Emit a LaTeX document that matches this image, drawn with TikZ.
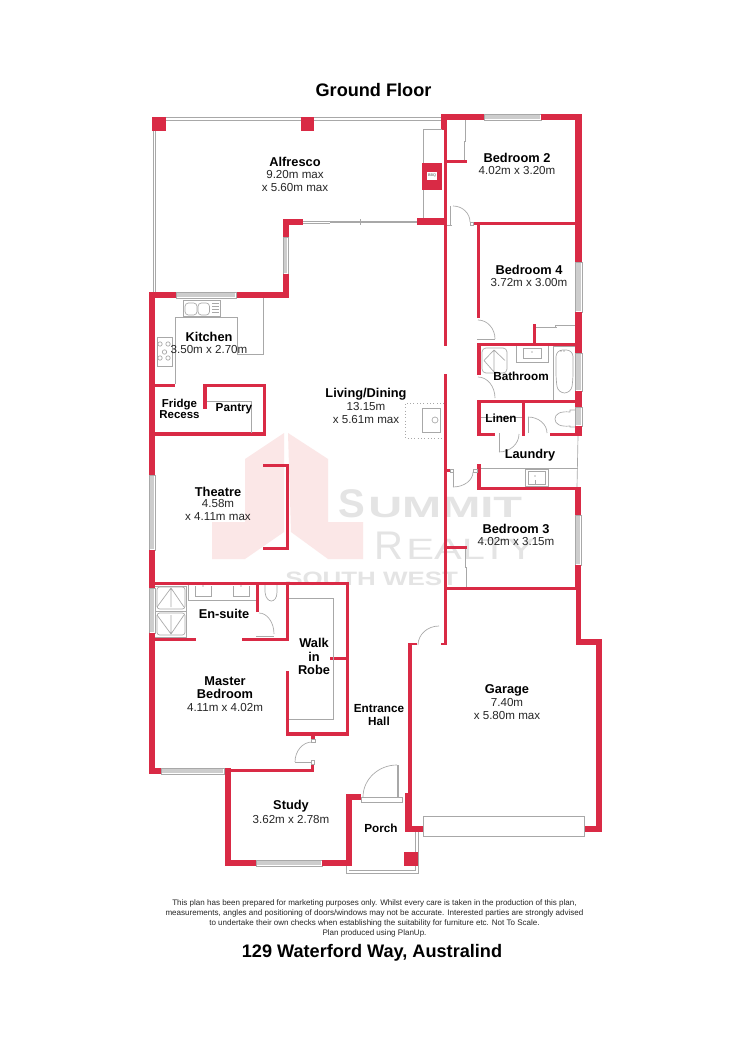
\documentclass[tikz,border=0pt]{standalone}
\usepackage{fontspec}
\setmainfont{Liberation Sans}
\usetikzlibrary{calc}
\definecolor{wallred}{HTML}{D92A45}
\definecolor{fine}{HTML}{A8A8A8}
\definecolor{band}{HTML}{CDCDCD}
\definecolor{logopink}{HTML}{FBE7E7}
\definecolor{logogrey}{HTML}{E4E4E4}
\tikzset{
 wall/.style={fill=wallred},
 thin line/.style={draw=fine,line width=0.5pt},
 roomname/.style={font=\fontsize{9.6pt}{11pt}\selectfont\bfseries,text=black,inner sep=0pt,align=center},
 roomsize/.style={font=\fontsize{8.7pt}{9.6pt}\selectfont,text=black!85,inner sep=0pt,align=center},
 heading/.style={font=\fontsize{13.6pt}{15pt}\selectfont\bfseries,text=black,inner sep=0pt},
 smallprint/.style={font=\fontsize{6.02pt}{7.5pt}\selectfont,text=black!85,inner sep=0pt,align=center},
 logotext/.style={text=logogrey,inner sep=0pt,anchor=base west},
}
% wall rectangle
\newcommand{\wl}[4]{\fill[wall] (#1,#2) rectangle (#3,#4);}
% horizontal and vertical windows
\newcommand{\hwin}[4]{\draw[thin line,fill=white] (#1,#2) rectangle (#3,#4);
 \fill[band] (#1+0.8,#2+1.2) rectangle (#3-0.8,#4-1.2);}
\newcommand{\vwin}[4]{\draw[thin line,fill=white] (#1,#2) rectangle (#3,#4);
 \fill[band] (#1+1.2,#2+0.8) rectangle (#3-1.2,#4-0.8);}
% quarter arc: from, corner, to
\newcommand{\qarc}[3]{\draw[thin line] (#1) .. controls ($(#1)!0.55!(#2)$) and ($(#3)!0.55!(#2)$) .. (#3);}
\begin{document}
\begin{tikzpicture}[x=0.75pt,y=-0.75pt]
\useasboundingbox (0,0) rectangle (750,1062);
\fill[white] (0,0) rectangle (750,1062);
% watermark
\fill[logopink] (284,433)--(245,459)--(245,522)--(212,522)--(212,559)--(245,559)--(284,532)--cycle;
\fill[logopink] (288,433)--(328,459)--(328,522)--(363,522)--(363,559)--(328,559)--(291,532)--cycle;
\node[logotext,font=\fontsize{30pt}{30pt}\selectfont\bfseries] (wmS) at (338,517) {S};
\node[logotext,font=\fontsize{22pt}{24pt}\selectfont\bfseries] (wmU) at (368,517) {\scalebox{1.6}[1]{UMMIT}};
\node[logotext,font=\fontsize{30pt}{30pt}\selectfont] (wmR) at (374,559) {R};
\node[logotext,font=\fontsize{22pt}{24pt}\selectfont] (wmE) at (406,559) {\scalebox{1.42}[1]{EALTY}};
\node[logotext,font=\fontsize{14.5pt}{16pt}\selectfont\bfseries] (wmW) at (285,585) {\scalebox{1.34}[1]{SOUTH WEST}};
% alfresco outline
\draw[thin line] (153,117) -- (441,117);
\draw[thin line] (153,120) -- (441,120);
\draw[thin line] (153,117) -- (153,292);
\draw[thin line] (155.5,120) -- (155.5,292);
\fill[wall] (152,117) rectangle (166,131);
\fill[wall] (301,117) rectangle (314,131);
% sliding door
\draw[thin line] (303,221) -- (417,221);
\draw[thin line] (303,223) -- (330,223);
\draw[thin line] (330,222.5) -- (417,222.5);
\draw[thin line] (360,219.5) -- (360,225);
% living corner
\wl{283}{219}{303}{225}
\wl{283}{225}{288.5}{237}
\vwin{283}{237}{288.5}{274}
\wl{283}{274}{288.5}{298}
\wl{149}{292}{288.5}{298}
\hwin{176}{292}{236}{298}
% left wall
\wl{149}{292}{155}{475}
\vwin{149}{475}{155}{550}
\wl{149}{550}{155}{588}
\vwin{149}{588}{155}{633}
\wl{149}{633}{155}{774}
\wl{149}{768}{161}{774}
\hwin{161}{768}{224}{774}
% master / study
\wl{225}{768}{231}{866}
\wl{225}{769}{314}{772}
\wl{311}{764}{314}{772}
\wl{311}{736}{315}{739}
\wl{225}{860}{256}{866}
\hwin{256}{860}{322}{866}
\wl{322}{860}{352}{866}
\wl{346}{794}{352}{866}
\wl{346}{794}{361}{800}
% robe + ensuite
\wl{149}{582}{349}{585}
\wl{346}{582}{349}{736}
\wl{286}{732}{349}{736}
\wl{286}{671}{289}{736}
\wl{286}{585}{289}{641}
\wl{242}{638}{289}{641}
\wl{155}{638}{196}{641}
\wl{256}{585}{259}{612}
\wl{330}{657}{346}{660}
\draw[thin line] (289,598) -- (333,598) -- (333,719) -- (289,719);
% theatre
\wl{263}{464}{289}{467}
\wl{286}{464}{289}{549}
\wl{263}{547}{289}{549.5}
% pantry + kitchen
\wl{155}{432}{266}{436}
\wl{203}{384}{266}{387}
\wl{203}{384}{207}{409}
\wl{263}{384}{266}{436}
\wl{155}{384}{175}{387}
\draw[thin line] (207,401) -- (251,401) -- (251,433);
\draw[thin line] (175,384) -- (175,317) -- (237,317) -- (237,354) -- (263,354) -- (263,298);
\draw[thin line] (183,300) rectangle (220,316);
\draw[thin line,rounded corners=2.5pt] (185,303) rectangle (197,315);
\draw[thin line,rounded corners=2.5pt] (198,303) rectangle (209.5,315);
\draw[thin line] (212,303) -- (219,303) (212,306) -- (219,306) (212,309) -- (219,309) (212,312) -- (219,312);
\draw[thin line] (157,337) rectangle (172,366);
\foreach \a/\b in {160/344,168/344,164.5/352,160/358,168/358}{\draw[thin line] (\a,\b) circle (2.2);}
% top right
\wl{441}{114}{484}{120}
\hwin{484}{114}{541}{120}
\wl{541}{114}{582}{120}
\wl{441}{114}{447}{130}
\wl{444}{130}{447}{346}
\wl{444}{374}{447}{645}
\wl{575}{114}{582}{262}
\vwin{575}{262}{582}{312}
\wl{575}{312}{582}{353}
\vwin{575}{353}{582}{391}
\wl{575}{391}{582}{407}
\vwin{575}{407}{582}{426}
\wl{575}{426}{582}{436}
\draw[thin line] (578,436) -- (577,487);
\wl{575}{487}{581}{515}
\vwin{575}{515}{581}{565}
\wl{575}{565}{581}{590}
\wl{473}{222}{576}{225}
\wl{477}{225}{480}{318}
\wl{447}{160}{467}{163}
\draw[thin line] (465,120) -- (465,141) -- (464,141) -- (464,160);
% BBQ and alfresco end
\wl{417}{218}{444}{225}
\draw[thin line] (423,163) -- (423,129) -- (442,129);
\draw[thin line] (423,190) -- (423,218);
\wl{422}{163}{442}{190}
\fill[white] (427,172) rectangle (437,180);
\node[font=\fontsize{2.8pt}{3pt}\selectfont,text=black!70,inner sep=0pt] (bbq) at (432,176) {BBQ};
% doors near bed 2
\draw[thin line] (450,206) -- (450,225) (447,225) -- (452,225);
\qarc{453,206}{470,206}{470,222}
\draw[thin line] (470,222) rectangle (473,225);
\qarc{478,320}{495,320}{495,339}
\draw[thin line] (477,339) -- (495,339);
% bathroom
\wl{533}{324}{536}{346}
\draw[thin line] (536,327) -- (557,327) (555,327) -- (555,325) -- (575,325);
\wl{477}{343}{575}{346}
\wl{477}{343}{481}{375}
\qarc{478,377}{495,377}{495,398}
\wl{477}{400}{575}{403}
\draw[thin line,rounded corners=3pt] (482,348) rectangle (507,373);
\draw[thin line] (484,360.5) -- (494,350) -- (505,360.5) (484,360.5) -- (494,372) (494,350) -- (494,372);
\draw[thin line] (516,346) -- (516,362) -- (548,362) -- (548,346);
\draw[thin line] (523,348) rectangle (541,358);
\draw[thin line] (553,346) -- (553,400) (553,346) -- (575,346);
\draw[thin line,rounded corners=5pt] (556,350) -- (573,350) -- (573,380) -- (571,393) -- (558,393) -- (556,380) -- cycle;
\fill[black!60] (564,351) circle (0.7) (561,351) circle (0.7) (532,352) circle (0.7);
% linen, WC, laundry
\wl{477}{403}{481}{436}
\wl{477}{433}{495}{436}
\wl{522}{403}{525}{436}
\wl{550}{433}{582}{436}
\draw[thin line] (481,417) -- (522,417);
\draw[thin line] (499,433) -- (499,452);
\qarc{499,452}{519,452}{519,434}
\draw[thin line] (528,417) -- (528,433);
\qarc{528,417}{547,417}{547,433}
\draw[thin line] (575,410) -- (570,410) -- (570,412) .. controls (560,411) and (555,414) .. (555,419) .. controls (555,424) and (560,427) .. (570,426) -- (570,427) -- (575,427);
\wl{477}{464}{481}{490}
\wl{477}{487}{581}{490}
\draw[thin line] (481,468) -- (578,468);
\draw[thin line] (525,469.5) rectangle (548,486);
\draw[thin line] (528,471) rectangle (545,484);
\fill[black!60] (535,476) circle (0.7);
\draw[thin line] (535,480) -- (535,484);
% hall door
\wl{447}{469}{450}{472}
\draw[thin line] (450,469) rectangle (453,472);
\draw[thin line] (473,469) rectangle (477,472);
\draw[thin line] (453,472) -- (453,487);
\qarc{453,487}{473,487}{473,472}
% bedroom 3 wardrobe + bottom
\wl{447}{546}{467}{549}
\draw[thin line] (465,549) -- (465,567) -- (466,567) -- (466,587);
\wl{447}{587}{581}{590}
% garage
\wl{576}{587}{581}{645}
\wl{576}{639}{602}{645}
\wl{596}{639}{602}{832}
\wl{584}{826}{602}{832}
\wl{405}{826}{423}{832}
\draw[thin line,fill=white] (423,816) rectangle (584,836);
\wl{405}{793}{412}{832}
\wl{408}{643}{412}{800}
\wl{408}{643}{417}{645}
\wl{441}{643}{447}{645}
\qarc{418,645}{418,626}{439,626}
% porch
\draw[thin line] (361,797) rectangle (402,802);
\draw[thin line] (397,765) -- (397,797) (398,765) -- (398,797);
\qarc{397,765}{363,765}{363,797}
\draw[thin line] (346,866) -- (346,873) -- (418,873) -- (418,832);
\draw[thin line] (349,870) -- (415,870) -- (415,832);
\wl{404}{852}{418}{866}
% ensuite fixtures
\draw[thin line] (155,586) -- (186,586) -- (186,637) -- (155,637) (155,611) -- (186,611);
\draw[thin line,rounded corners=2pt] (157,587) rectangle (185,609);
\draw[thin line,rounded corners=2pt] (157,613) rectangle (185,635);
\draw[thin line] (157,607) -- (171,588) -- (184,607) (171,588) -- (171,607);
\draw[thin line] (157,615) -- (171,634) -- (184,615) (171,615) -- (171,634);
\draw[thin line] (188,585) -- (188,600) -- (256,600);
\draw[thin line] (195,586) -- (195,596) -- (211,596) -- (211,586);
\draw[thin line] (233,586) -- (233,596) -- (249,596) -- (249,586);
\fill[black!60] (203,586) circle (0.7) (241,586) circle (0.7);
\draw[thin line] (265,585) -- (265,592) .. controls (266,604) and (277,604) .. (277,592) -- (277,585);
\qarc{259,613}{274,613}{274,634}
\draw[thin line] (256,636) -- (274,636);
% master door
\draw[thin line] (311,739) rectangle (315,742);
\draw[thin line] (311,760) rectangle (314,764);
\qarc{312,742}{295,742}{295,762}
\draw[thin line] (295,762) -- (312,762);
% island
\draw[fine,dotted,line width=0.5pt] (444,403) -- (405,403) -- (405,438) -- (444,438);
\draw[thin line] (422,408) rectangle (440,432);
\draw[thin line] (435,420) circle (3);
% titles
\node[heading] (gf) at (373.5,90) {Ground Floor};
\node[heading] (addr) at (372,953) {129 Waterford Way, Australind};
\node[smallprint] (fine) at (374.5,918) {This plan has been prepared for marketing purposes only. Whilst every care is taken in the production of this plan,\\measurements, angles and positioning of doors/windows may not be accurate. Interested parties are strongly advised\\to undertake their own checks when establishing the suitability for furniture etc. Not To Scale.\\Plan produced using PlanUp.};
% room labels
\node[roomname] (n1) at (295,162) {Alfresco};
\node[roomsize] (s1) at (295,181) {9.20m max\\x 5.60m max};
\node[roomname] (n2) at (517,158) {Bedroom 2};
\node[roomsize] (s2) at (517,171) {4.02m x 3.20m};
\node[roomname] (n3) at (529,270) {Bedroom 4};
\node[roomsize] (s3) at (529,283) {3.72m x 3.00m};
\node[roomname] (n4) at (209,337) {Kitchen};
\node[roomsize] (s4) at (209,350) {3.50m x 2.70m};
\node[roomname,font=\fontsize{8.6pt}{8.4pt}\selectfont\bfseries] (n5) at (179.5,408.5) {Fridge\\Recess};
\node[roomname,font=\fontsize{8.8pt}{10pt}\selectfont\bfseries] (n6) at (234,409) {Pantry};
\node[roomname] (n7) at (366,394) {Living/Dining};
\node[roomsize] (s7) at (366,413) {13.15m\\x 5.61m max};
\node[roomname,font=\fontsize{8.8pt}{10pt}\selectfont\bfseries] (n8) at (521,376) {Bathroom};
\node[roomname,font=\fontsize{8.8pt}{10pt}\selectfont\bfseries] (n9) at (501,418) {Linen};
\node[roomname] (n10) at (530,455) {Laundry};
\node[roomname] (n11) at (218,492) {Theatre};
\node[roomsize] (s11) at (218,510) {4.58m\\x 4.11m max};
\node[roomname] (n12) at (516,528.5) {Bedroom 3};
\node[roomsize] (s12) at (516,542) {4.02m x 3.15m};
\node[roomname] (n13) at (224,614) {En-suite};
\node[roomname,font=\fontsize{9.6pt}{10.1pt}\selectfont\bfseries] (n14) at (314,656.5) {Walk\\in\\Robe};
\node[roomname,font=\fontsize{9.6pt}{10pt}\selectfont\bfseries] (n15) at (225,687.5) {Master\\Bedroom};
\node[roomsize] (s15) at (225,707) {4.11m x 4.02m};
\node[roomname,font=\fontsize{8.8pt}{9.2pt}\selectfont\bfseries] (n16) at (379,715) {Entrance\\Hall};
\node[roomname] (n17) at (507,690) {Garage};
\node[roomsize] (s17) at (507,709) {7.40m\\x 5.80m max};
\node[roomname] (n18) at (291,806) {Study};
\node[roomsize] (s18) at (291,819) {3.62m x 2.78m};
\node[roomname,font=\fontsize{8.8pt}{10pt}\selectfont\bfseries] (n19) at (381,828) {Porch};
\end{tikzpicture}
\end{document}
